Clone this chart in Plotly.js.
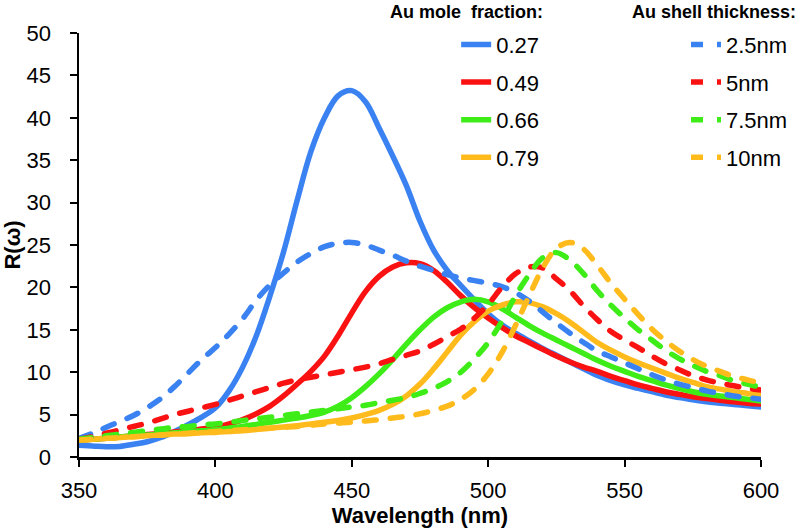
<!DOCTYPE html>
<html>
<head>
<meta charset="utf-8">
<script src="https://cdn.plot.ly/plotly-3.0.1.min.js"></script>
<style>
html,body{margin:0;padding:0;background:#fff;}
#chart{width:805px;height:528px;}
.scatterlayer .js-line{stroke-linecap:round;}
</style>
</head>
<body>
<div id="chart"></div>
<script>
// Wavelength grid (nm)
const wavelength = [350,355,360,365,370,375,380,385,390,395,400,405,410,415,420,425,430,435,440,445,450,455,460,465,470,475,480,485,490,495,500,505,510,515,520,525,530,535,540,545,550,555,560,565,570,575,580,585,590,595,600];

// Au mole fraction series (solid)
const frac027 = [1.4,1.3,1.2,1.25,1.5,1.8,2.3,3.0,3.8,4.7,5.8,7.8,10.6,14.3,19.0,24.2,30.3,36.0,40.0,42.6,43.2,41.9,38.8,35.5,32.0,27.8,24.4,22.0,20.2,18.5,16.9,15.6,14.6,13.7,12.8,12.0,11.2,10.4,9.6,9.0,8.5,8.1,7.7,7.3,7.0,6.75,6.5,6.35,6.2,6.05,5.9];
const frac049 = [2.0,2.1,2.2,2.35,2.5,2.65,2.8,2.95,3.1,3.3,3.5,3.9,4.4,5.1,6.0,7.2,8.6,10.1,11.9,14.3,17.0,19.5,21.3,22.4,22.9,22.8,22.0,20.6,19.0,17.6,16.4,15.3,14.3,13.5,12.7,11.9,11.2,10.6,10.1,9.5,9.0,8.5,8.1,7.7,7.4,7.1,6.9,6.7,6.5,6.35,6.25];
const frac066 = [2.0,2.1,2.2,2.35,2.5,2.6,2.7,2.85,3.0,3.1,3.2,3.4,3.6,3.85,4.1,4.35,4.6,4.9,5.3,6.0,7.0,8.3,9.8,11.5,13.3,15.0,16.5,17.6,18.3,18.6,18.3,17.5,16.5,15.5,14.6,13.8,13.0,12.2,11.4,10.7,10.1,9.5,9.0,8.5,8.1,7.7,7.4,7.2,7.0,6.8,6.6];
const frac079 = [2.0,2.1,2.2,2.3,2.4,2.5,2.6,2.7,2.75,2.85,2.9,3.0,3.1,3.25,3.4,3.55,3.7,3.9,4.1,4.3,4.6,5.0,5.5,6.2,7.2,8.6,10.4,12.4,14.4,16.0,17.2,17.9,18.3,18.2,17.7,16.9,15.9,14.7,13.5,12.6,11.8,11.1,10.5,9.9,9.3,8.8,8.3,8.0,7.7,7.5,7.3];

// Au shell thickness series (dashed)
const shell25 = [2.2,2.8,3.5,4.2,4.9,5.8,6.9,8.3,9.9,11.5,12.9,14.5,16.3,18.5,20.3,21.7,23.0,24.0,24.8,25.2,25.3,25.0,24.4,23.8,23.1,22.5,22.0,21.5,21.1,20.8,20.5,20.1,19.4,18.4,17.1,15.8,14.6,13.5,12.5,11.8,11.1,10.4,9.7,9.1,8.6,8.2,7.8,7.5,7.2,7.0,6.8];
const shell5 = [2.1,2.4,2.8,3.2,3.6,4.0,4.5,5.0,5.4,5.8,6.2,6.7,7.2,7.7,8.2,8.7,9.1,9.4,9.7,10.0,10.3,10.6,11.0,11.5,12.0,12.5,13.3,14.2,15.1,16.4,18.0,20.0,21.6,22.4,22.3,21.0,19.6,17.8,16.2,14.8,13.8,12.9,11.9,11.0,10.3,9.6,9.1,8.7,8.4,8.1,7.9];
const shell75 = [2.1,2.3,2.5,2.7,2.9,3.1,3.3,3.5,3.6,3.8,3.9,4.1,4.3,4.5,4.7,4.9,5.1,5.3,5.5,5.7,5.9,6.1,6.4,6.7,7.0,7.5,8.1,8.9,10.0,11.6,13.5,16.0,19.0,21.5,23.5,24.1,23.2,21.6,19.6,17.9,16.4,15.0,13.8,12.6,11.6,10.8,10.1,9.6,9.0,8.6,8.2];
const shell10 = [2.0,2.1,2.2,2.3,2.4,2.5,2.6,2.7,2.8,2.9,3.0,3.1,3.2,3.3,3.4,3.5,3.6,3.75,3.9,4.0,4.1,4.25,4.4,4.6,4.8,5.1,5.5,6.0,6.8,8.0,9.8,12.3,15.5,19.0,22.3,24.6,25.3,24.5,22.6,20.5,18.6,16.8,15.1,13.7,12.5,11.5,10.7,10.1,9.5,9.1,8.7];

const fracLabels = ["0.27","0.49","0.66","0.79"];
const shellLabels = ["2.5nm","5nm","7.5nm","10nm"];
const colors = ["#3a82f2","#fa1212","#3eec18","#ffbb1c"];
const fracSeries = [frac027, frac049, frac066, frac079];
const shellSeries = [shell25, shell5, shell75, shell10];

const traces = [];
fracSeries.forEach((s, i) => {
  traces.push({
    x: wavelength, y: s, type: 'scatter', mode: 'lines', name: fracLabels[i],
    line: {color: colors[i], width: 5.5, shape: 'spline'},
    legend: 'legend', legendgroup: 'f' + i
  });
});
shellSeries.forEach((s, i) => {
  traces.push({
    x: wavelength, y: s, type: 'scatter', mode: 'lines', name: shellLabels[i],
    line: {color: colors[i], width: 5.5, shape: 'spline', dash: '12px,14px'},
    legend: 'legend2', legendgroup: 's' + i
  });
});

const FONT = 'Liberation Sans, Arial, sans-serif';
const layout = {
  width: 805, height: 528,
  margin: {l: 79, r: 42, t: 33, b: 71},
  paper_bgcolor: '#fff', plot_bgcolor: '#fff',
  font: {family: FONT, color: '#000', size: 22},
  showlegend: true,
  xaxis: {
    range: [350, 600], dtick: 50, tick0: 350,
    showgrid: false, zeroline: false,
    showline: true, linecolor: '#000', linewidth: 2.5,
    ticks: 'outside', ticklen: 7, tickwidth: 2, tickcolor: '#000',
    ticklabelstandoff: 5,
    tickfont: {family: FONT, size: 22, color: '#000'},
    title: {text: '<b>Wavelength (nm)</b>', font: {family: FONT, size: 22, color: '#000'}, standoff: 0}
  },
  yaxis: {
    range: [0, 50], dtick: 5, tick0: 0,
    showgrid: false, zeroline: false,
    showline: true, linecolor: '#000', linewidth: 2.5,
    ticks: 'outside', ticklen: 7, tickwidth: 2, tickcolor: '#000',
    ticklabelstandoff: 14,
    tickfont: {family: FONT, size: 22, color: '#000'},
    title: {text: '<b>R(ω)</b>', font: {family: FONT, size: 22, color: '#000'}, standoff: 1}
  },
  legend: {
    x: 0.553, xanchor: 'left', y: 1.022, yanchor: 'top',
    bgcolor: 'rgba(0,0,0,0)', font: {family: FONT, size: 22, color: '#000'},
    tracegroupgap: 6, traceorder: 'grouped'
  },
  legend2: {
    x: 0.89, xanchor: 'left', y: 1.022, yanchor: 'top',
    bgcolor: 'rgba(0,0,0,0)', font: {family: FONT, size: 22, color: '#000'},
    tracegroupgap: 6, traceorder: 'grouped'
  },
  annotations: [
    {text: '<b>Au mole  fraction:</b>', xref: 'paper', yref: 'paper', x: 0.684, y: 1.0495,
     xanchor: 'right', yanchor: 'middle', showarrow: false, font: {family: FONT, size: 18, color: '#000'}},
    {text: '<b>Au shell thickness:</b>', xref: 'paper', yref: 'paper', x: 1.054, y: 1.0495,
     xanchor: 'right', yanchor: 'middle', showarrow: false, font: {family: FONT, size: 18, color: '#000'}}
  ]
};

Plotly.newPlot('chart', traces, layout, {displayModeBar: false, staticPlot: true});
</script>
</body>
</html>
